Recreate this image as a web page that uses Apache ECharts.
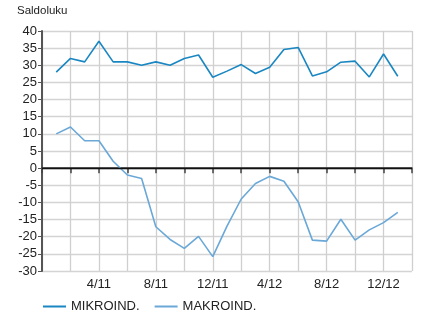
<!DOCTYPE html>
<html>
<head>
<meta charset="utf-8">
<script src="https://cdn.jsdelivr.net/npm/echarts@6/dist/echarts.min.js"></script>
<style>
  html, body { margin: 0; padding: 0; background: #fff; }
  #chart { width: 427px; height: 312px; }
</style>
</head>
<body>
<div id="chart"></div>
<script>
// months 12/10 .. 2/13, data from 1/11 to 1/13
var months = ['12/10',
    '1/11', '2/11', '3/11', '4/11', '5/11', '6/11', '7/11', '8/11', '9/11', '10/11', '11/11', '12/11',
    '1/12', '2/12', '3/12', '4/12', '5/12', '6/12', '7/12', '8/12', '9/12', '10/12', '11/12', '12/12',
    '1/13', '2/13'];
var labelMonths = ['4/11', '8/11', '12/11', '4/12', '8/12', '12/12'];

var mikroind = [null,
    28, 32, 31, 37, 31, 31, 30, 31, 30, 32, 33, 26.5,
    28.3, 30.2, 27.6, 29.4, 34.6, 35.2, 26.9, 28.1, 30.9, 31.2, 26.6, 33.3,
    26.8, null];
var makroind = [null,
    10, 12, 8, 8, 2, -2, -3, -17.1, -20.8, -23.4, -19.9, -25.8,
    -16.9, -9, -4.5, -2.4, -3.8, -9.8, -21, -21.3, -14.9, -21, -18, -15.9,
    -12.9, null];

var chart = echarts.init(document.getElementById('chart'));
var font = 'Liberation Sans, Arial, sans-serif';

chart.setOption({
    animation: false,
    textStyle: {fontFamily: font},
    title: {
        text: 'Saldoluku', left: 17, top: 5, padding: 0,
        textStyle: {fontSize: 11.5, fontWeight: 'normal', color: '#222', fontFamily: font}
    },
    legend: {
        left: 43, top: 300, padding: 0, itemWidth: 23, itemHeight: 10, itemGap: 15,
        icon: 'path://M0,4 L23,4 L23,6 L0,6 Z',
        textStyle: {fontSize: 13, color: '#222', fontFamily: font},
        data: ['MIKROIND.', 'MAKROIND.']
    },
    grid: {left: 42, right: 15, top: 31, bottom: 41, containLabel: false},
    xAxis: {
        type: 'category',
        data: months,
        boundaryGap: false,
        axisLine: {show: true, lineStyle: {color: '#333', width: 1.5}},
        axisTick: {show: true, interval: 1, length: 5, lineStyle: {color: '#444', width: 1.5}},
        splitLine: {show: true, interval: 1, lineStyle: {color: '#cfcfcf', width: 1.3}},
        axisLabel: {
            interval: 0, fontSize: 13, color: '#222', margin: 7,
            formatter: function(v){ return labelMonths.indexOf(v) >= 0 ? v : ''; }
        }
    },
    yAxis: {
        type: 'value', min: -30, max: 40, interval: 5,
        axisLine: {show: true, lineStyle: {color: '#555', width: 2}},
        axisTick: {show: true, length: 4, lineStyle: {color: '#555'}},
        splitLine: {lineStyle: {color: '#d4d4d4', width: 1.3}},
        axisLabel: {fontSize: 13, color: '#222', margin: 5}
    },
    series: [
        {
            name: 'MIKROIND.', type: 'line', data: mikroind, symbol: 'none',
            lineStyle: {color: '#1a87c2', width: 1.6}, itemStyle: {color: '#1a87c2'},
            markLine: {
                silent: true, symbol: 'none', label: {show: false},
                lineStyle: {color: '#111', type: 'solid', width: 1.3},
                data: [{yAxis: 0}]
            }
        },
        {
            name: 'MAKROIND.', type: 'line', data: makroind, symbol: 'none',
            lineStyle: {color: '#6aa8d8', width: 1.6}, itemStyle: {color: '#6aa8d8'}
        }
    ]
});
</script>
</body>
</html>
